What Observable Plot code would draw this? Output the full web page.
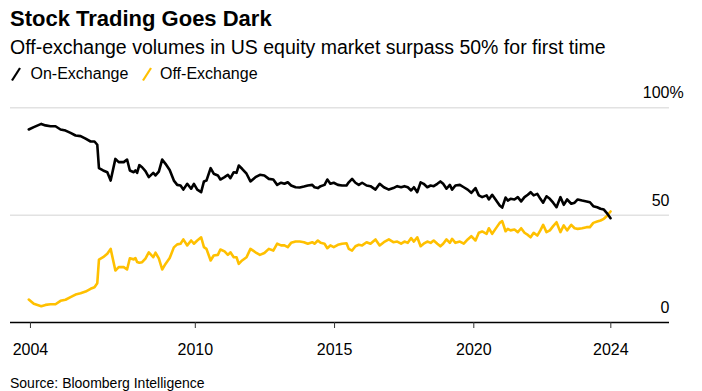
<!DOCTYPE html>
<html>
<head>
<meta charset="utf-8">
<script src="https://cdn.jsdelivr.net/npm/d3@7"></script>
<script src="https://cdn.jsdelivr.net/npm/@observablehq/plot@0.6"></script>
<style>
  html, body { margin: 0; padding: 0; background: #fff; }
  body { font-family: "Liberation Sans", Arial, sans-serif; color: #000; }
  #wrap { position: relative; width: 702px; height: 391px; overflow: hidden; }
  .t { position: absolute; white-space: nowrap; line-height: 1; }
  #title { left: 10px; top: 8.4px; font-size: 22px; font-weight: 700; }
  #subtitle { left: 10px; top: 37.5px; font-size: 19.5px; }
  #legend { left: 0; top: 65.5px; font-size: 16px; width: 702px; height: 20px; }
  #legend span { position: absolute; top: 0; }
  #legend svg { position: absolute; top: 0; }
  #source { left: 10px; top: 376px; font-size: 14px; }
  #chart { position: absolute; left: 0; top: 80px; }
</style>
</head>
<body>
<div id="wrap">
  <div class="t" id="title">Stock Trading Goes Dark</div>
  <div class="t" id="subtitle">Off-exchange volumes in US equity market surpass 50% for first time</div>
  <div class="t" id="legend">
    <svg width="14" height="16" style="left:9px"><line x1="3" y1="14.5" x2="11" y2="2" stroke="#000" stroke-width="2.2"/></svg>
    <span style="left:30.5px">On-Exchange</span>
    <svg width="14" height="16" style="left:140px"><line x1="3" y1="14.5" x2="11" y2="2" stroke="#ffc000" stroke-width="2.2"/></svg>
    <span style="left:160px">Off-Exchange</span>
  </div>
  <div id="chart"></div>
  <div class="t" id="source">Source: Bloomberg Intelligence</div>
</div>
<script>
// Decimal-year sample dates
const years = [
  2004.02, 2004.20, 2004.47, 2004.62, 2004.80, 2004.98, 2005.16, 2005.34, 2005.52, 2005.70,
  2005.88, 2006.06, 2006.24, 2006.38, 2006.48, 2006.54, 2006.69, 2006.84, 2006.96, 2007.13,
  2007.25, 2007.43, 2007.55, 2007.65, 2007.79, 2007.85, 2007.91, 2007.99, 2008.09, 2008.21,
  2008.33, 2008.49, 2008.57, 2008.69, 2008.81, 2008.93, 2009.08, 2009.23, 2009.35, 2009.47,
  2009.57, 2009.71, 2009.85, 2009.95, 2010.07, 2010.21, 2010.31, 2010.40, 2010.55, 2010.66,
  2010.81, 2010.90, 2011.05, 2011.17, 2011.26, 2011.38, 2011.48, 2011.56, 2011.68, 2011.84,
  2011.98, 2012.16, 2012.32, 2012.48, 2012.64, 2012.80, 2012.94, 2013.08, 2013.20, 2013.32,
  2013.44, 2013.60, 2013.75, 2013.90, 2014.04, 2014.20, 2014.28, 2014.40, 2014.50, 2014.64,
  2014.74, 2014.85, 2014.97, 2015.12, 2015.27, 2015.43, 2015.51, 2015.63, 2015.75, 2015.87,
  2015.99, 2016.15, 2016.29, 2016.47, 2016.62, 2016.77, 2016.95, 2017.11, 2017.25, 2017.39,
  2017.51, 2017.63, 2017.75, 2017.85, 2017.97, 2018.09, 2018.20, 2018.33, 2018.45, 2018.56,
  2018.69, 2018.80, 2018.90, 2019.02, 2019.14, 2019.22, 2019.34, 2019.50, 2019.64, 2019.78,
  2019.91, 2020.06, 2020.18, 2020.30, 2020.46, 2020.54, 2020.66, 2020.78, 2020.93, 2021.02,
  2021.14, 2021.22, 2021.32, 2021.46, 2021.58, 2021.70, 2021.82, 2021.94, 2022.04, 2022.15,
  2022.28, 2022.39, 2022.49, 2022.61, 2022.73, 2022.85, 2022.97, 2023.11, 2023.23, 2023.35,
  2023.50, 2023.62, 2023.73, 2023.89, 2024.05, 2024.17, 2024.29, 2024.43, 2024.55, 2024.67,
  2024.77, 2024.91
];
// On-Exchange share of US equity volume (%)
const onExchange = [
  89.9, 91.0, 92.5, 91.8, 91.4, 91.4, 89.9, 89.4, 88.3, 87.1,
  86.8, 85.6, 84.3, 84.3, 82.8, 71.9, 70.8, 70.0, 66.1, 76.2,
  74.7, 74.7, 75.9, 70.8, 70.0, 70.8, 69.7, 73.3, 72.3, 70.5,
  67.7, 69.7, 68.5, 70.3, 75.9, 73.9, 71.0, 66.1, 64.1, 63.8,
  61.9, 64.6, 62.3, 64.6, 61.9, 60.7, 65.7, 66.1, 71.9, 69.3,
  68.5, 66.6, 67.7, 68.8, 67.2, 70.0, 69.7, 73.1, 71.6, 69.3,
  65.7, 67.7, 68.8, 68.5, 66.9, 66.6, 64.1, 65.1, 64.6, 65.3,
  63.8, 63.0, 62.9, 63.3, 63.8, 64.1, 63.0, 62.6, 63.5, 64.1,
  66.6, 64.6, 65.1, 64.1, 63.8, 63.8, 65.3, 66.9, 65.1, 64.1,
  65.1, 63.8, 63.5, 61.9, 64.6, 63.0, 61.9, 62.6, 63.5, 63.0,
  63.5, 63.0, 61.5, 63.0, 60.7, 65.3, 64.6, 63.0, 63.8, 63.5,
  64.6, 65.7, 64.6, 62.3, 64.1, 61.9, 63.8, 64.1, 63.0, 61.9,
  60.4, 62.6, 59.2, 58.4, 59.2, 57.3, 59.5, 57.3, 54.5, 53.5,
  58.2, 56.8, 57.6, 57.3, 58.4, 56.4, 58.4, 59.5, 60.7, 59.2,
  59.9, 57.6, 55.8, 58.8, 57.6, 55.8, 53.7, 58.4, 54.8, 57.3,
  55.3, 55.8, 57.3, 56.8, 56.4, 56.0, 54.2, 53.7, 53.0, 52.6,
  51.1, 48.6
];
// Off-Exchange share of US equity volume (%)
const offExchange = [
  10.7, 8.7, 7.6, 8.2, 8.5, 8.5, 10.1, 10.6, 11.8, 13.0,
  13.6, 14.4, 15.7, 16.4, 18.3, 29.3, 30.4, 32.0, 34.3, 24.2,
  25.8, 25.8, 24.7, 29.9, 29.4, 30.0, 28.2, 27.8, 28.1, 29.8,
  32.7, 30.4, 32.5, 29.9, 24.7, 27.3, 30.0, 35.0, 36.4, 36.7,
  38.7, 35.9, 38.2, 36.7, 38.2, 39.7, 35.1, 34.3, 28.9, 31.2,
  31.5, 34.0, 33.1, 31.5, 32.7, 30.4, 30.4, 27.3, 28.9, 30.4,
  34.3, 32.7, 31.5, 32.4, 34.3, 33.5, 36.7, 35.9, 35.9, 35.1,
  37.1, 37.7, 37.7, 37.4, 36.7, 37.4, 36.7, 38.2, 37.1, 36.7,
  34.6, 35.9, 35.1, 36.2, 36.7, 36.9, 34.3, 33.5, 35.5, 36.2,
  35.9, 37.4, 36.7, 38.7, 35.9, 37.4, 38.7, 37.4, 37.7, 36.7,
  37.7, 37.1, 39.3, 37.7, 39.7, 35.5, 36.7, 37.7, 37.1, 38.2,
  36.7, 35.5, 36.7, 38.7, 37.1, 39.0, 37.1, 37.7, 36.7, 38.7,
  40.2, 38.2, 41.8, 42.4, 41.3, 43.9, 41.3, 43.6, 46.4, 47.2,
  42.5, 43.6, 42.9, 43.3, 42.1, 43.9, 41.8, 40.8, 39.7, 41.8,
  40.5, 42.9, 45.5, 42.1, 42.9, 44.9, 46.7, 42.1, 45.2, 42.9,
  45.5, 43.9, 43.6, 43.9, 44.4, 44.4, 46.4, 47.0, 47.5, 48.3,
  49.5, 51.7
];
const xTickValues = [2004.08, 2010, 2015, 2020, 2024.92];
const xTickLabels = ["2004", "2010", "2015", "2020", "2024"];
const yTickValues = [0, 50, 100];
const yTickLabels = ["0", "50", "100"];
const xDomain = [2003.364, 2027.027];

const data = years.map((year, i) => ({year, on: onExchange[i], off: offExchange[i]}));
const xLabel = new Map(xTickValues.map((v, i) => [v, xTickLabels[i]]));
const yLabels = yTickValues.map((v, i) => ({v, label: yTickLabels[i]}));
const yellow = "#ffc000";

const chart = Plot.plot({
  width: 702,
  height: 290,
  marginLeft: 10,
  marginRight: 33,
  marginTop: 27.3,
  marginBottom: 48,
  style: {fontFamily: "'Liberation Sans', Arial, sans-serif", fontSize: "16px", color: "#000", background: "transparent"},
  x: {domain: xDomain, label: null},
  y: {domain: [0, 100], label: null},
  marks: [
    Plot.ruleY([50, 100], {stroke: "#e2e2e2", strokeWidth: 1.5}),
    Plot.lineY(data, {x: "year", y: "off", stroke: yellow, strokeWidth: 2.6}),
    Plot.lineY(data, {x: "year", y: "on", stroke: "#000", strokeWidth: 2.6}),
    Plot.ruleY([0], {stroke: "#000", strokeWidth: 1.5}),
    Plot.axisX({ticks: xTickValues, tickFormat: d => xLabel.get(d), tickSize: 6, tickPadding: 15, fontSize: 16, stroke: "#333", label: null}),
    Plot.axisY({ticks: [], label: null}),
    Plot.text(yLabels, {x: xDomain[1], y: "v", text: "label", textAnchor: "end", dy: -14.5, fontSize: 16, fill: "#000"}),
    Plot.text([100], {x: xDomain[1], y: d => d, text: () => "%", textAnchor: "start", dy: -14.5, fontSize: 16, fill: "#000"})
  ]
});
document.getElementById("chart").appendChild(chart);
</script>
</body>
</html>
